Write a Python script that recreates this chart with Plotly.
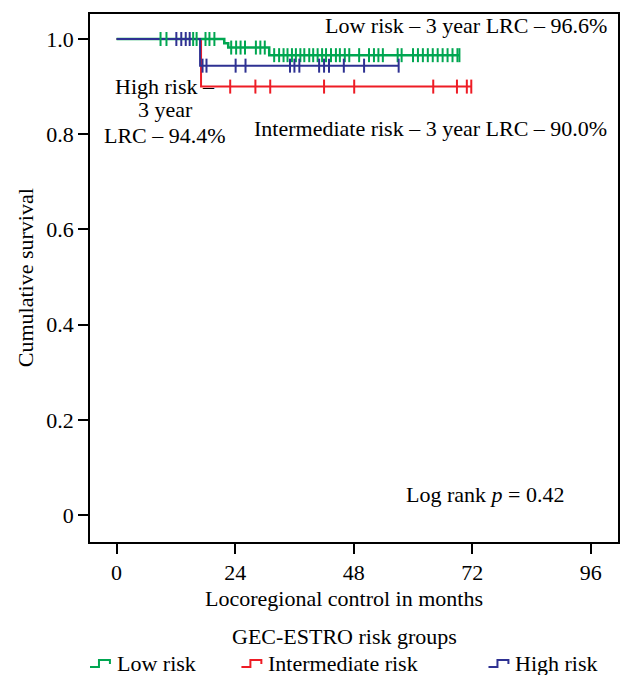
import plotly.graph_objects as go

# ---------------- data ----------------
x_ticks = [0, 24, 48, 72, 96]
y_ticks = [0, 0.2, 0.4, 0.6, 0.8, 1.0]
y_ticktext = ["0", "0.2", "0.4", "0.6", "0.8", "1.0"]

low_event_times = [21.8, 22.6, 30.9]
low_surv = [0.991, 0.982, 0.966]
low_end = 69.4
low_censor = [8.9, 10.1, 15.5, 16.2, 18.0, 18.8, 19.8,
              23.2, 24.2, 25.1, 26.0, 28.2, 29.1, 30.0,
              31.9, 32.9, 33.8, 34.6, 35.5, 36.3, 37.2, 38.0, 39.0, 39.8,
              40.7, 41.6, 42.4, 43.4, 44.4, 45.2, 46.2, 47.1, 49.1, 51.1,
              52.1, 53.0, 53.9, 56.9, 57.7, 60.0, 61.0, 62.0, 63.0, 64.0,
              65.0, 66.0, 67.0, 68.0, 69.0, 69.4]

int_event_times = [17.1]
int_surv = [0.900]
int_end = 71.8
int_censor = [23.0, 28.1, 31.1, 42.0, 48.1, 64.1, 68.9, 70.9, 71.8]

high_event_times = [16.9]
high_surv = [0.944]
high_end = 57.1
high_censor = [12.1, 13.1, 14.0, 14.8, 17.4, 18.2, 24.1, 26.1, 35.1, 36.0,
               37.0, 41.0, 42.0, 43.0, 46.0, 50.1, 57.1]

groups = ["Low risk", "Intermediate risk", "High risk"]
colors = {"Low risk": "#00a651", "Intermediate risk": "#ee1c25", "High risk": "#2e3192"}

FONT = "Liberation Serif"
FS = 22


def step_xy(times, surv, end):
    xs = [0] + list(times) + [end]
    ys = [1.0] + list(surv) + [surv[-1]]
    return xs, ys


def surv_at(t, times, surv):
    s = 1.0
    for tt, ss in zip(times, surv):
        if t >= tt:
            s = ss
    return s


series = {
    "Low risk": (low_event_times, low_surv, low_end, low_censor, 2.5),
    "Intermediate risk": (int_event_times, int_surv, int_end, int_censor, 2),
    "High risk": (high_event_times, high_surv, high_end, high_censor, 2),
}

fig = go.Figure()
for g in ["Intermediate risk", "Low risk", "High risk"]:
    times, surv, end, cens, lw = series[g]
    xs, ys = step_xy(times, surv, end)
    fig.add_trace(go.Scatter(x=xs, y=ys, mode="lines", line=dict(color=colors[g], width=lw, shape="hv"),
                             name=g, showlegend=False, hoverinfo="skip"))
for g in ["Intermediate risk", "Low risk", "High risk"]:
    times, surv, end, cens, lw = series[g]
    cy = [surv_at(t, times, surv) for t in cens]
    fig.add_trace(go.Scatter(x=cens, y=cy, mode="markers",
                             marker=dict(symbol="line-ns", size=10, line=dict(color=colors[g], width=2)),
                             showlegend=False, hoverinfo="skip"))

axis_common = dict(showline=True, linecolor="black", linewidth=1.5, mirror=True, showgrid=False,
                   zeroline=False, ticks="outside", ticklen=10, tickcolor="black", tickwidth=1.5,
                   tickfont=dict(family=FONT, size=FS, color="black"))

fig.update_xaxes(range=[-5.38, 101.5], tickvals=x_ticks, **axis_common)
fig.update_yaxes(range=[-0.0567, 1.0525], tickvals=y_ticks, ticktext=y_ticktext, **axis_common)


def px(v):
    return (v - 90) / 530


def py(v):
    return (542 - v) / 528


ann_font = dict(family=FONT, size=FS, color="black")
annotations = [
    dict(x=99.7, y=1.029, xref="x", yref="y", text="Low risk – 3 year LRC – 96.6%",
         xanchor="right", yanchor="middle", showarrow=False, font=ann_font),
    dict(x=99.7, y=0.813, xref="x", yref="y", text="Intermediate risk – 3 year LRC – 90.0%",
         xanchor="right", yanchor="middle", showarrow=False, font=ann_font),
    dict(x=9.9, y=0.901, xref="x", yref="y", text="High risk –",
         xanchor="center", yanchor="middle", showarrow=False, font=ann_font),
    dict(x=9.9, y=0.851, xref="x", yref="y", text="3 year",
         xanchor="center", yanchor="middle", showarrow=False, font=ann_font),
    dict(x=9.9, y=0.798, xref="x", yref="y", text="LRC – 94.4%",
         xanchor="center", yanchor="middle", showarrow=False, font=ann_font),
    dict(x=74.6, y=0.044, xref="x", yref="y", text="Log rank <i>p</i> = 0.42",
         xanchor="center", yanchor="middle", showarrow=False, font=ann_font),
    # axis titles
    dict(x=px(25), y=py(278), xref="paper", yref="paper", text="Cumulative survival",
         textangle=-90, xanchor="center", yanchor="middle", showarrow=False, font=ann_font),
    dict(x=px(345), y=py(598), xref="paper", yref="paper",
         text="Locoregional control in months", xanchor="center", yanchor="middle",
         showarrow=False, font=ann_font),
    dict(x=px(345), y=py(636), xref="paper", yref="paper",
         text="GEC-ESTRO risk groups", xanchor="center", yanchor="middle",
         showarrow=False, font=ann_font),
]

# manual legend (icons + labels)
legend_pos = {"Low risk": (90, 115), "Intermediate risk": (242, 267), "High risk": (490, 515)}
shapes = []
ly = 663
for g in groups:
    ix, tx = legend_pos[g]
    path = (f"M {px(ix)},{py(ly + 4)} L {px(ix + 9)},{py(ly + 4)} L {px(ix + 9)},{py(ly - 3)} "
            f"L {px(ix + 20)},{py(ly - 3)} L {px(ix + 20)},{py(ly + 1)}")
    shapes.append(dict(type="path", path=path, xref="paper", yref="paper",
                       line=dict(color=colors[g], width=2)))
    annotations.append(dict(x=px(tx), y=py(ly), xref="paper", yref="paper", text=g,
                            xanchor="left", yanchor="middle", showarrow=False, font=ann_font))

fig.update_layout(
    width=621, height=675,
    margin=dict(l=90, r=1, t=14, b=133),
    paper_bgcolor="white", plot_bgcolor="white",
    font=dict(family=FONT, size=FS, color="black"),
    annotations=annotations, shapes=shapes,
    showlegend=False,
)

fig.write_html("out.html")
